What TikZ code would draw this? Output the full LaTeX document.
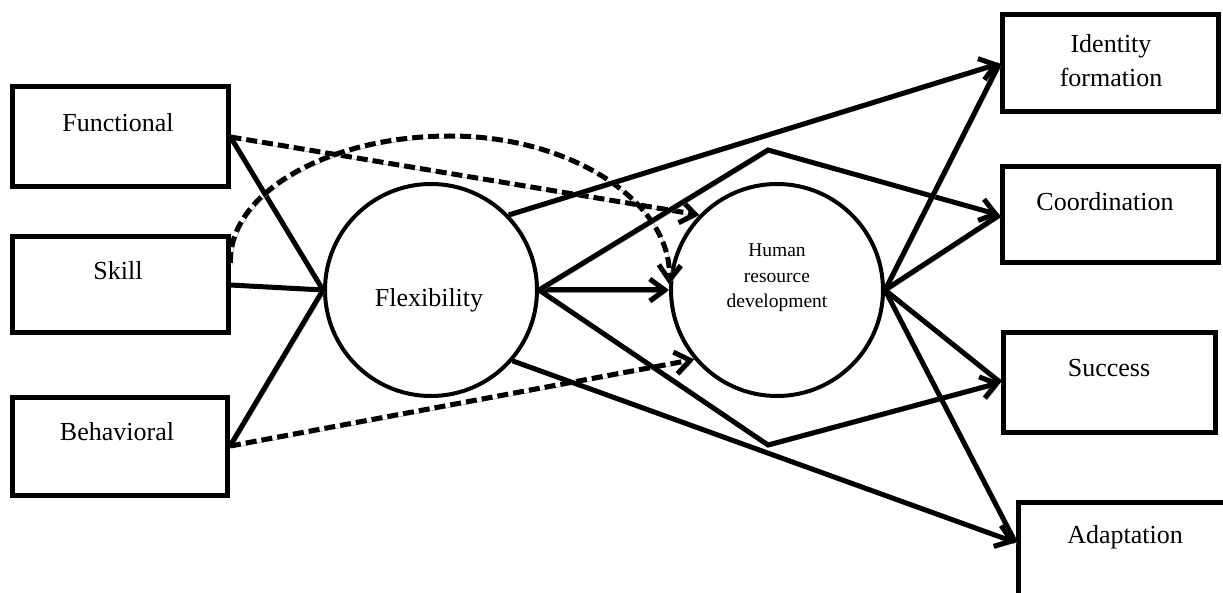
\documentclass[tikz,border=0pt]{standalone}
\usepackage{fontspec}
\setmainfont{Liberation Serif}
\usetikzlibrary{arrows.meta,calc}
\begin{document}
\begin{tikzpicture}[x=1pt,y=-1pt,
  box/.style={draw, line width=5pt, rectangle, inner sep=0pt},
  circ/.style={draw, line width=4pt, circle, inner sep=0pt, minimum size=212pt},
  lbl/.style={inner sep=0pt, font=\fontsize{26}{34}\selectfont, align=center},
  conn/.style={line width=5pt, line join=miter,
    preaction={draw=black!45, transform canvas={shift={(2,2)}}}},
  dsh/.style={dash pattern=on 11pt off 5pt},
  arr/.style={-{Straight Barb[length=15pt,width=22pt]}}
]
\clip (0,0) rectangle (1223,593);
\fill[white] (0,0) rectangle (1223,593);

% boxes left
\node[box, minimum width=216pt, minimum height=100pt] (func) at (120,137) {};
\node[box, minimum width=216pt, minimum height=96pt] (skill) at (120,285) {};
\node[box, minimum width=215pt, minimum height=98pt] (beh) at (120,446) {};
\node[lbl, anchor=base] (funct) at (118,132) {Functional};
\node[lbl, anchor=base] (skillt) at (118,280) {Skill};
\node[lbl, anchor=base] (beht) at (117,440) {Behavioral};

% boxes right
\node[box, minimum width=216pt, minimum height=97pt] (ident) at (1110,63.5) {};
\node[box, minimum width=216pt, minimum height=96pt] (coord) at (1110,215) {};
\node[box, minimum width=212pt, minimum height=99pt] (succ) at (1109,382.5) {};
\node[box, minimum width=242pt, minimum height=130pt] (adap) at (1139,567) {};
\node[lbl] (identt) at (1111,61) {Identity\\formation};
\node[lbl, anchor=base] (coordt) at (1105,211) {Coordination};
\node[lbl, anchor=base] (succt) at (1109,377) {Success};
\node[lbl, anchor=base] (adapt) at (1125,543) {Adaptation};

% circles
\node[circ] (flex) at (431,290) {};
\node[lbl, anchor=base] (flext) at (429,307) {Flexibility};
\node[circ] (hrd) at (777,290) {};
\node[inner sep=0pt, align=center, font=\fontsize{19.5}{25.5}\selectfont] (hrdt) at (777,278) {Human\\resource\\development};

\coordinate (bendA) at (768,150);
\coordinate (bendB) at (768,445);
\coordinate (adapIn) at ($(adap.north west)+(0,43)$);
\coordinate (skillArc) at ($(skill.east)+(0,-22)$);

% inputs to flexibility
\draw[conn] (func.east) -- (flex.west);
\draw[conn] (skill.east) -- (flex.west);
\draw[conn] (beh.east) -- (flex.west);

% dashed paths to HRD
\draw[conn, dsh, arr] (func.east) -- (hrd.136);
\draw[conn, dsh, arr] (skillArc) .. controls (228,193) and (328,136) .. (450,136)
  .. controls (572,136) and (672,203) .. (hrd.177);
\draw[conn, dsh, arr] (beh.east) -- (hrd.220);

% flexibility outputs
\draw[conn, arr] (flex.east) -- (hrd.west);
\draw[conn, arr] (flex.44) -- (ident.west);
\draw[conn, arr] (flex.east) -- (bendA) -- (coord.west);
\draw[conn, arr] (flex.east) -- (bendB) -- (succ.west);
\draw[conn, arr] (flex.-41) -- (adapIn);

% HRD outputs
\draw[conn] (hrd.east) -- (ident.west);
\draw[conn] (hrd.east) -- (coord.west);
\draw[conn] (hrd.east) -- (succ.west);
\draw[conn] (hrd.east) -- (adapIn);
\end{tikzpicture}
\end{document}
